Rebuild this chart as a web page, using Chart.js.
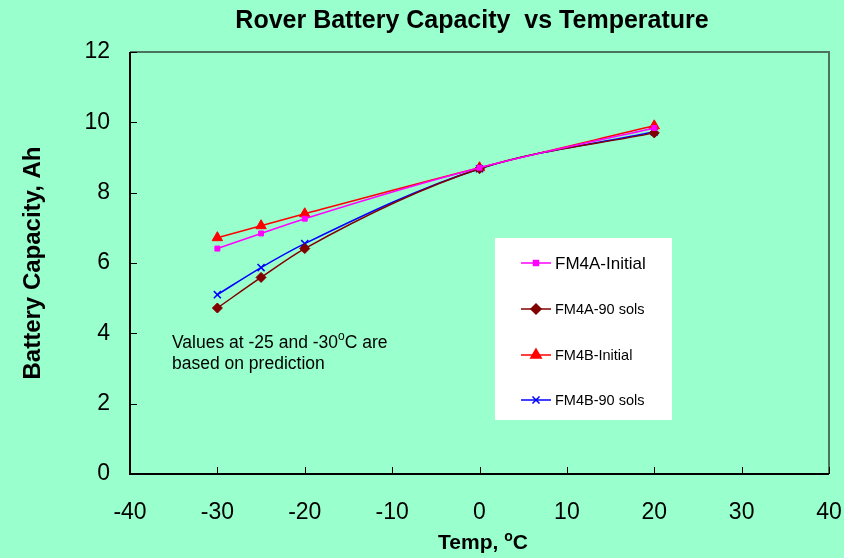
<!DOCTYPE html>
<html>
<head>
<meta charset="utf-8">
<script src="https://cdn.jsdelivr.net/npm/chart.js@4.4.1/dist/chart.umd.min.js"></script>
<style>
    html, body { margin: 0; padding: 0; background: #99ffcc; }
    #wrap { width: 844px; height: 558px; }
</style>
</head>
<body>
<div id="wrap"><canvas id="capacityChart" width="844" height="558"></canvas></div>
<script>
// Data
const temps = [-30, -25, -20, 0, 20];
const fm4aInitial = [6.41, 6.84, 7.26, 8.71, 9.84];
const fm4a90Sols = [4.72, 5.59, 6.41, 8.68, 9.70];
const fm4bInitial = [6.72, 7.06, 7.40, 8.71, 9.90];
const fm4b90Sols = [5.10, 5.87, 6.55, 8.68, 9.73];
const xTicks = [-40, -30, -20, -10, 0, 10, 20, 30, 40];
const yTicks = [0, 2, 4, 6, 8, 10, 12];

const FONT = '"Liberation Sans", Arial, sans-serif';

const series = [
    { label: 'FM4A-Initial', values: fm4aInitial, color: '#ff00ff', point: 'rect', radius: 3.5, legendFont: 17 },
    { label: 'FM4A-90 sols', values: fm4a90Sols, color: '#800000', point: 'rectRot', radius: 5, legendFont: 14.5 },
    { label: 'FM4B-Initial', values: fm4bInitial, color: '#ff0000', point: 'triangle', radius: 6, legendFont: 14.5 },
    { label: 'FM4B-90 sols', values: fm4b90Sols, color: '#0000ff', point: 'crossRot', radius: 5, legendFont: 14.5 }
];

// text with a small raised "o" for the degree sign
function drawSupText(ctx, parts, x, y, font, supFont, align) {
    let total = 0;
    parts.forEach(p => {
        ctx.font = p.sup ? supFont : font;
        total += ctx.measureText(p.text).width;
    });
    let cx = align === 'center' ? x - total / 2 : x;
    ctx.textAlign = 'left';
    ctx.textBaseline = 'alphabetic';
    parts.forEach(p => {
        ctx.font = p.sup ? supFont : font;
        ctx.fillText(p.text, cx, p.sup ? y - 8 : y);
        cx += ctx.measureText(p.text).width;
    });
}

const decorations = {
    id: 'decorations',
    beforeDraw(chart) {
        const { ctx } = chart;
        ctx.save();
        ctx.fillStyle = '#99ffcc';
        ctx.fillRect(0, 0, chart.width, chart.height);
        ctx.restore();
    },
    afterDraw(chart) {
        const { ctx, chartArea: a, scales } = chart;
        ctx.save();

        // plot frame: grey top/right, black axes
        ctx.strokeStyle = '#4a7360';
        ctx.lineWidth = 2;
        ctx.beginPath();
        ctx.moveTo(a.left, a.top);
        ctx.lineTo(a.right, a.top);
        ctx.lineTo(a.right, a.bottom);
        ctx.stroke();
        ctx.strokeStyle = '#000';
        ctx.beginPath();
        ctx.moveTo(a.left, a.top);
        ctx.lineTo(a.left, a.bottom);
        ctx.lineTo(a.right, a.bottom);
        ctx.stroke();

        // inward tick marks
        ctx.lineWidth = 1;
        xTicks.forEach(v => {
            const px = Math.round(scales.x.getPixelForValue(v)) + 0.5;
            ctx.beginPath();
            ctx.moveTo(px, a.bottom);
            ctx.lineTo(px, a.bottom - 7);
            ctx.stroke();
        });
        yTicks.forEach(v => {
            const py = Math.round(scales.y.getPixelForValue(v)) + 0.5;
            ctx.beginPath();
            ctx.moveTo(a.left, py);
            ctx.lineTo(a.left + 7, py);
            ctx.stroke();
        });

        ctx.fillStyle = '#000';

        // chart title
        ctx.font = 'bold 25px ' + FONT;
        ctx.textAlign = 'center';
        ctx.textBaseline = 'middle';
        ctx.fillText('Rover Battery Capacity  vs Temperature', 472, 21);

        // y axis title
        ctx.save();
        ctx.translate(33, 263);
        ctx.rotate(-Math.PI / 2);
        ctx.font = 'bold 24px ' + FONT;
        ctx.fillText('Battery Capacity, Ah', 0, 0);
        ctx.restore();

        // x axis title
        drawSupText(ctx, [{ text: 'Temp, ' }, { text: 'o', sup: true }, { text: 'C' }],
            483, 549, 'bold 21px ' + FONT, 'bold 14px ' + FONT, 'center');

        // note
        drawSupText(ctx, [{ text: 'Values at -25 and -30' }, { text: 'o', sup: true }, { text: 'C are' }],
            172, 348, '17.5px ' + FONT, '12px ' + FONT, 'left');
        ctx.font = '17.5px ' + FONT;
        ctx.fillText('based on prediction', 172, 369);

        // legend box
        ctx.fillStyle = '#fff';
        ctx.fillRect(495, 238, 177, 182);
        const rows = [263, 309, 355, 400];
        series.forEach((s, i) => {
            const y = rows[i];
            ctx.strokeStyle = s.color;
            ctx.fillStyle = s.color;
            ctx.lineWidth = 1.5;
            ctx.beginPath();
            ctx.moveTo(521, y);
            ctx.lineTo(551, y);
            ctx.stroke();
            Chart.helpers.drawPoint(ctx, {
                pointStyle: s.point, radius: s.radius, borderWidth: s.point === 'crossRot' ? 1.5 : 1
            }, 536, y);
            ctx.fillStyle = '#000';
            ctx.font = s.legendFont + 'px ' + FONT;
            ctx.textAlign = 'left';
            ctx.textBaseline = 'middle';
            ctx.fillText(s.label, 555, y + 1);
        });
        ctx.restore();
    }
};

new Chart(document.getElementById('capacityChart'), {
    type: 'line',
    data: {
        datasets: series.map(s => ({
            label: s.label,
            data: temps.map((t, i) => ({ x: t, y: s.values[i] })),
            borderColor: s.color,
            backgroundColor: s.color,
            borderWidth: 1.5,
            pointStyle: s.point,
            pointRadius: s.radius,
            pointBorderWidth: s.point === 'crossRot' ? 1.5 : 1,
            cubicInterpolationMode: 'monotone'
        }))
    },
    options: {
        responsive: false,
        animation: false,
        layout: { padding: { top: 52, right: 15, left: 0, bottom: 0 } },
        plugins: {
            legend: { display: false },
            tooltip: { enabled: false }
        },
        scales: {
            x: {
                type: 'linear',
                min: -40,
                max: 40,
                afterBuildTicks: scale => { scale.ticks = xTicks.map(v => ({ value: v })); },
                afterFit: scale => {
                    scale.height = 84;
                    scale.paddingLeft = 0;
                    scale.paddingRight = 0;
                },
                grid: { display: false, drawTicks: false },
                border: { display: false },
                ticks: { color: '#000', font: { size: 23, family: FONT }, padding: 25, maxRotation: 0 }
            },
            y: {
                min: 0,
                max: 12,
                afterBuildTicks: scale => { scale.ticks = yTicks.map(v => ({ value: v })); },
                afterFit: scale => {
                    scale.width = 130;
                    scale.paddingTop = 0;
                    scale.paddingBottom = 0;
                },
                grid: { display: false, drawTicks: false },
                border: { display: false },
                ticks: { color: '#000', font: { size: 23, family: FONT }, padding: 20 }
            }
        }
    },
    plugins: [decorations]
});
</script>
</body>
</html>
